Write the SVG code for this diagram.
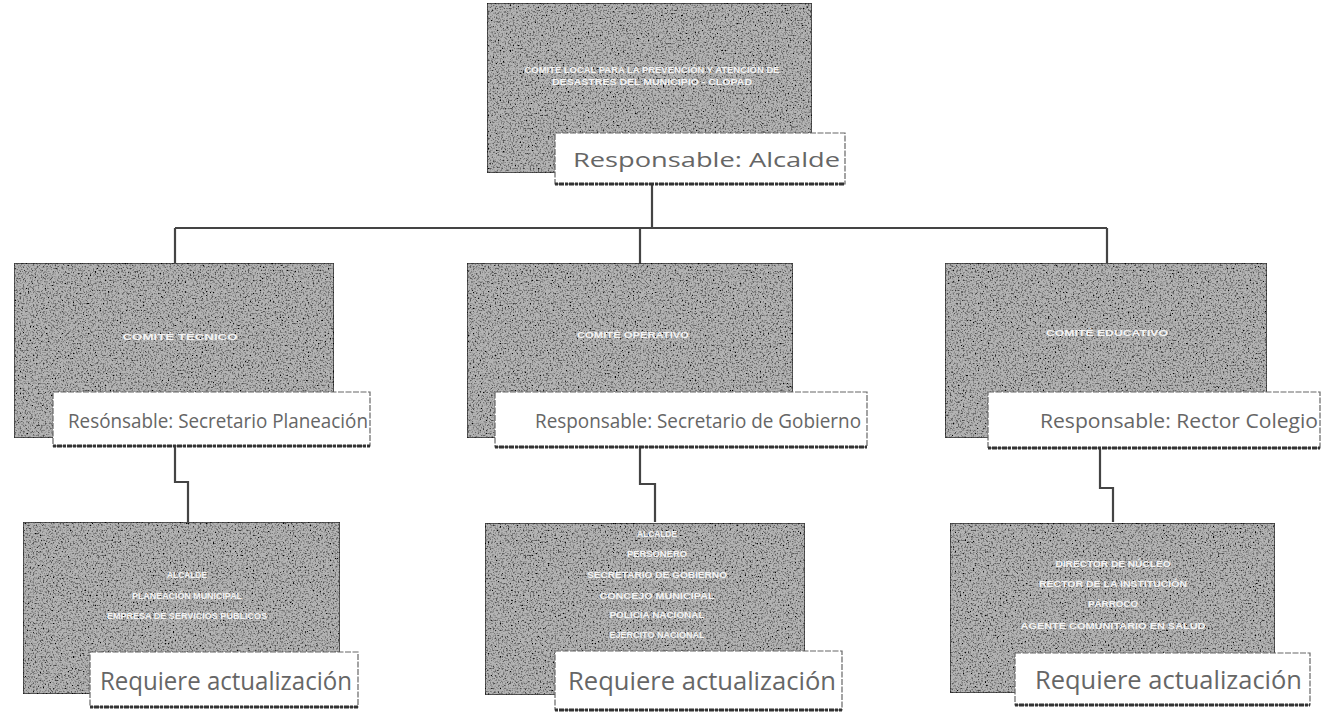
<svg xmlns="http://www.w3.org/2000/svg" width="1323" height="719" viewBox="0 0 1323 719">
<defs>
<filter id="grain" x="0" y="0" width="100%" height="100%">
<feTurbulence type="fractalNoise" baseFrequency="0.6" numOctaves="2" seed="3" result="n"/>
<feColorMatrix in="n" type="matrix" values="0 0 0 0 0  0 0 0 0 0  0 0 0 0 0  0 0 0 -3 1.6" result="dots"/>
<feComposite in="dots" in2="SourceGraphic" operator="in" result="d2"/>
<feMerge><feMergeNode in="SourceGraphic"/><feMergeNode in="d2"/></feMerge>
</filter>
</defs>
<style>
.dark{fill:#b4b4b4;stroke:#333;stroke-width:1.5;filter:url(#grain)}
.lab{fill:#ffffff;stroke:#666;stroke-width:1.2;stroke-dasharray:6 1.5}
.shd{stroke:#333;stroke-width:3;stroke-dasharray:3 1 5 1}
.lt{font-family:"Open Sans","Liberation Sans",sans-serif;fill:#666;font-size:20px}
.big{font-size:26px}
.wt{font-family:"Liberation Sans",sans-serif;font-weight:bold;fill:#f4f4f4;font-size:8.5px;text-anchor:middle}
.con{fill:none;stroke:#444;stroke-width:2.2}
</style>
<rect width="1323" height="719" fill="#ffffff"/>
<g id="connectors">
<path class="con" d="M652 185 V228 M175 228 H1107 M175 228 V263 M640 228 V263 M1107 228 V263"/>
<path class="con" d="M175 447 V482 H188 V522"/>
<path class="con" d="M640 447 V484 H655 V522"/>
<path class="con" d="M1100 448 V488 H1113 V522"/>
</g>
<g id="node-top">
<rect class="dark" x="487" y="3" width="325" height="170"/>
<text class="wt" x="652" y="73" textLength="255" lengthAdjust="spacingAndGlyphs">COMITÉ LOCAL PARA LA PREVENCIÓN Y ATENCIÓN DE</text>
<text class="wt" x="652" y="85" textLength="200" lengthAdjust="spacingAndGlyphs">DESASTRES DEL MUNICIPIO - CLOPAD</text>
<rect class="lab" x="555" y="133" width="290" height="51"/>
<line class="shd" x1="555" y1="184" x2="845" y2="184"/>
<text class="lt" x="573" y="167" textLength="267" lengthAdjust="spacingAndGlyphs">Responsable: Alcalde</text>
</g>
<g id="node-tecnico">
<rect class="dark" x="14" y="263" width="320" height="175"/>
<text class="wt" x="180" y="340" textLength="115" lengthAdjust="spacingAndGlyphs">COMITÉ TÉCNICO</text>
<rect class="lab" x="53" y="392" width="317" height="54"/>
<line class="shd" x1="53" y1="446" x2="370" y2="446"/>
<text class="lt" x="68" y="428" textLength="300" lengthAdjust="spacingAndGlyphs">Resónsable: Secretario Planeación</text>
</g>
<g id="node-operativo">
<rect class="dark" x="467" y="263" width="326" height="175"/>
<text class="wt" x="633" y="338" textLength="112" lengthAdjust="spacingAndGlyphs">COMITÉ OPERATIVO</text>
<rect class="lab" x="495" y="392" width="372" height="55"/>
<line class="shd" x1="495" y1="447" x2="867" y2="447"/>
<text class="lt" x="535" y="428" textLength="326" lengthAdjust="spacingAndGlyphs">Responsable: Secretario de Gobierno</text>
</g>
<g id="node-educativo">
<rect class="dark" x="945" y="263" width="322" height="175"/>
<text class="wt" x="1107" y="336" textLength="122" lengthAdjust="spacingAndGlyphs">COMITÉ EDUCATIVO</text>
<rect class="lab" x="988" y="392" width="332" height="56"/>
<line class="shd" x1="988" y1="448" x2="1320" y2="448"/>
<text class="lt" x="1040" y="428" textLength="278" lengthAdjust="spacingAndGlyphs">Responsable: Rector Colegio</text>
</g>
<g id="node-bl">
<rect class="dark" x="23" y="522" width="317" height="172"/>
<text class="wt" x="187" y="578" textLength="40" lengthAdjust="spacingAndGlyphs">ALCALDE</text>
<text class="wt" x="187" y="599" textLength="110" lengthAdjust="spacingAndGlyphs">PLANEACIÓN MUNICIPAL</text>
<text class="wt" x="187" y="619" textLength="160" lengthAdjust="spacingAndGlyphs">EMPRESA DE SERVICIOS PÚBLICOS</text>
<rect class="lab" x="90" y="652" width="268" height="55"/>
<line class="shd" x1="90" y1="707" x2="358" y2="707"/>
<text class="lt big" x="100" y="690" textLength="252" lengthAdjust="spacingAndGlyphs">Requiere actualización</text>
</g>
<g id="node-bm">
<rect class="dark" x="485" y="523" width="320" height="172"/>
<text class="wt" x="657" y="537" textLength="40" lengthAdjust="spacingAndGlyphs">ALCALDE</text>
<text class="wt" x="657" y="557" textLength="60" lengthAdjust="spacingAndGlyphs">PERSONERO</text>
<text class="wt" x="657" y="578" textLength="140" lengthAdjust="spacingAndGlyphs">SECRETARIO DE GOBIERNO</text>
<text class="wt" x="657" y="599" textLength="115" lengthAdjust="spacingAndGlyphs">CONCEJO MUNICIPAL</text>
<text class="wt" x="657" y="618" textLength="95" lengthAdjust="spacingAndGlyphs">POLICÍA NACIONAL</text>
<text class="wt" x="657" y="638" textLength="95" lengthAdjust="spacingAndGlyphs">EJÉRCITO NACIONAL</text>
<rect class="lab" x="555" y="651" width="287" height="59"/>
<line class="shd" x1="555" y1="710" x2="842" y2="710"/>
<text class="lt big" x="568" y="690" textLength="268" lengthAdjust="spacingAndGlyphs">Requiere actualización</text>
</g>
<g id="node-br">
<rect class="dark" x="950" y="523" width="325" height="170"/>
<text class="wt" x="1113" y="567" textLength="115" lengthAdjust="spacingAndGlyphs">DIRECTOR DE NÚCLEO</text>
<text class="wt" x="1113" y="587" textLength="148" lengthAdjust="spacingAndGlyphs">RECTOR DE LA INSTITUCIÓN</text>
<text class="wt" x="1113" y="607" textLength="50" lengthAdjust="spacingAndGlyphs">PÁRROCO</text>
<text class="wt" x="1113" y="629" textLength="185" lengthAdjust="spacingAndGlyphs">AGENTE COMUNITARIO EN SALUD</text>
<rect class="lab" x="1015" y="653" width="295" height="52"/>
<line class="shd" x1="1015" y1="705" x2="1310" y2="705"/>
<text class="lt big" x="1035" y="689" textLength="267" lengthAdjust="spacingAndGlyphs">Requiere actualización</text>
</g>
</svg>
